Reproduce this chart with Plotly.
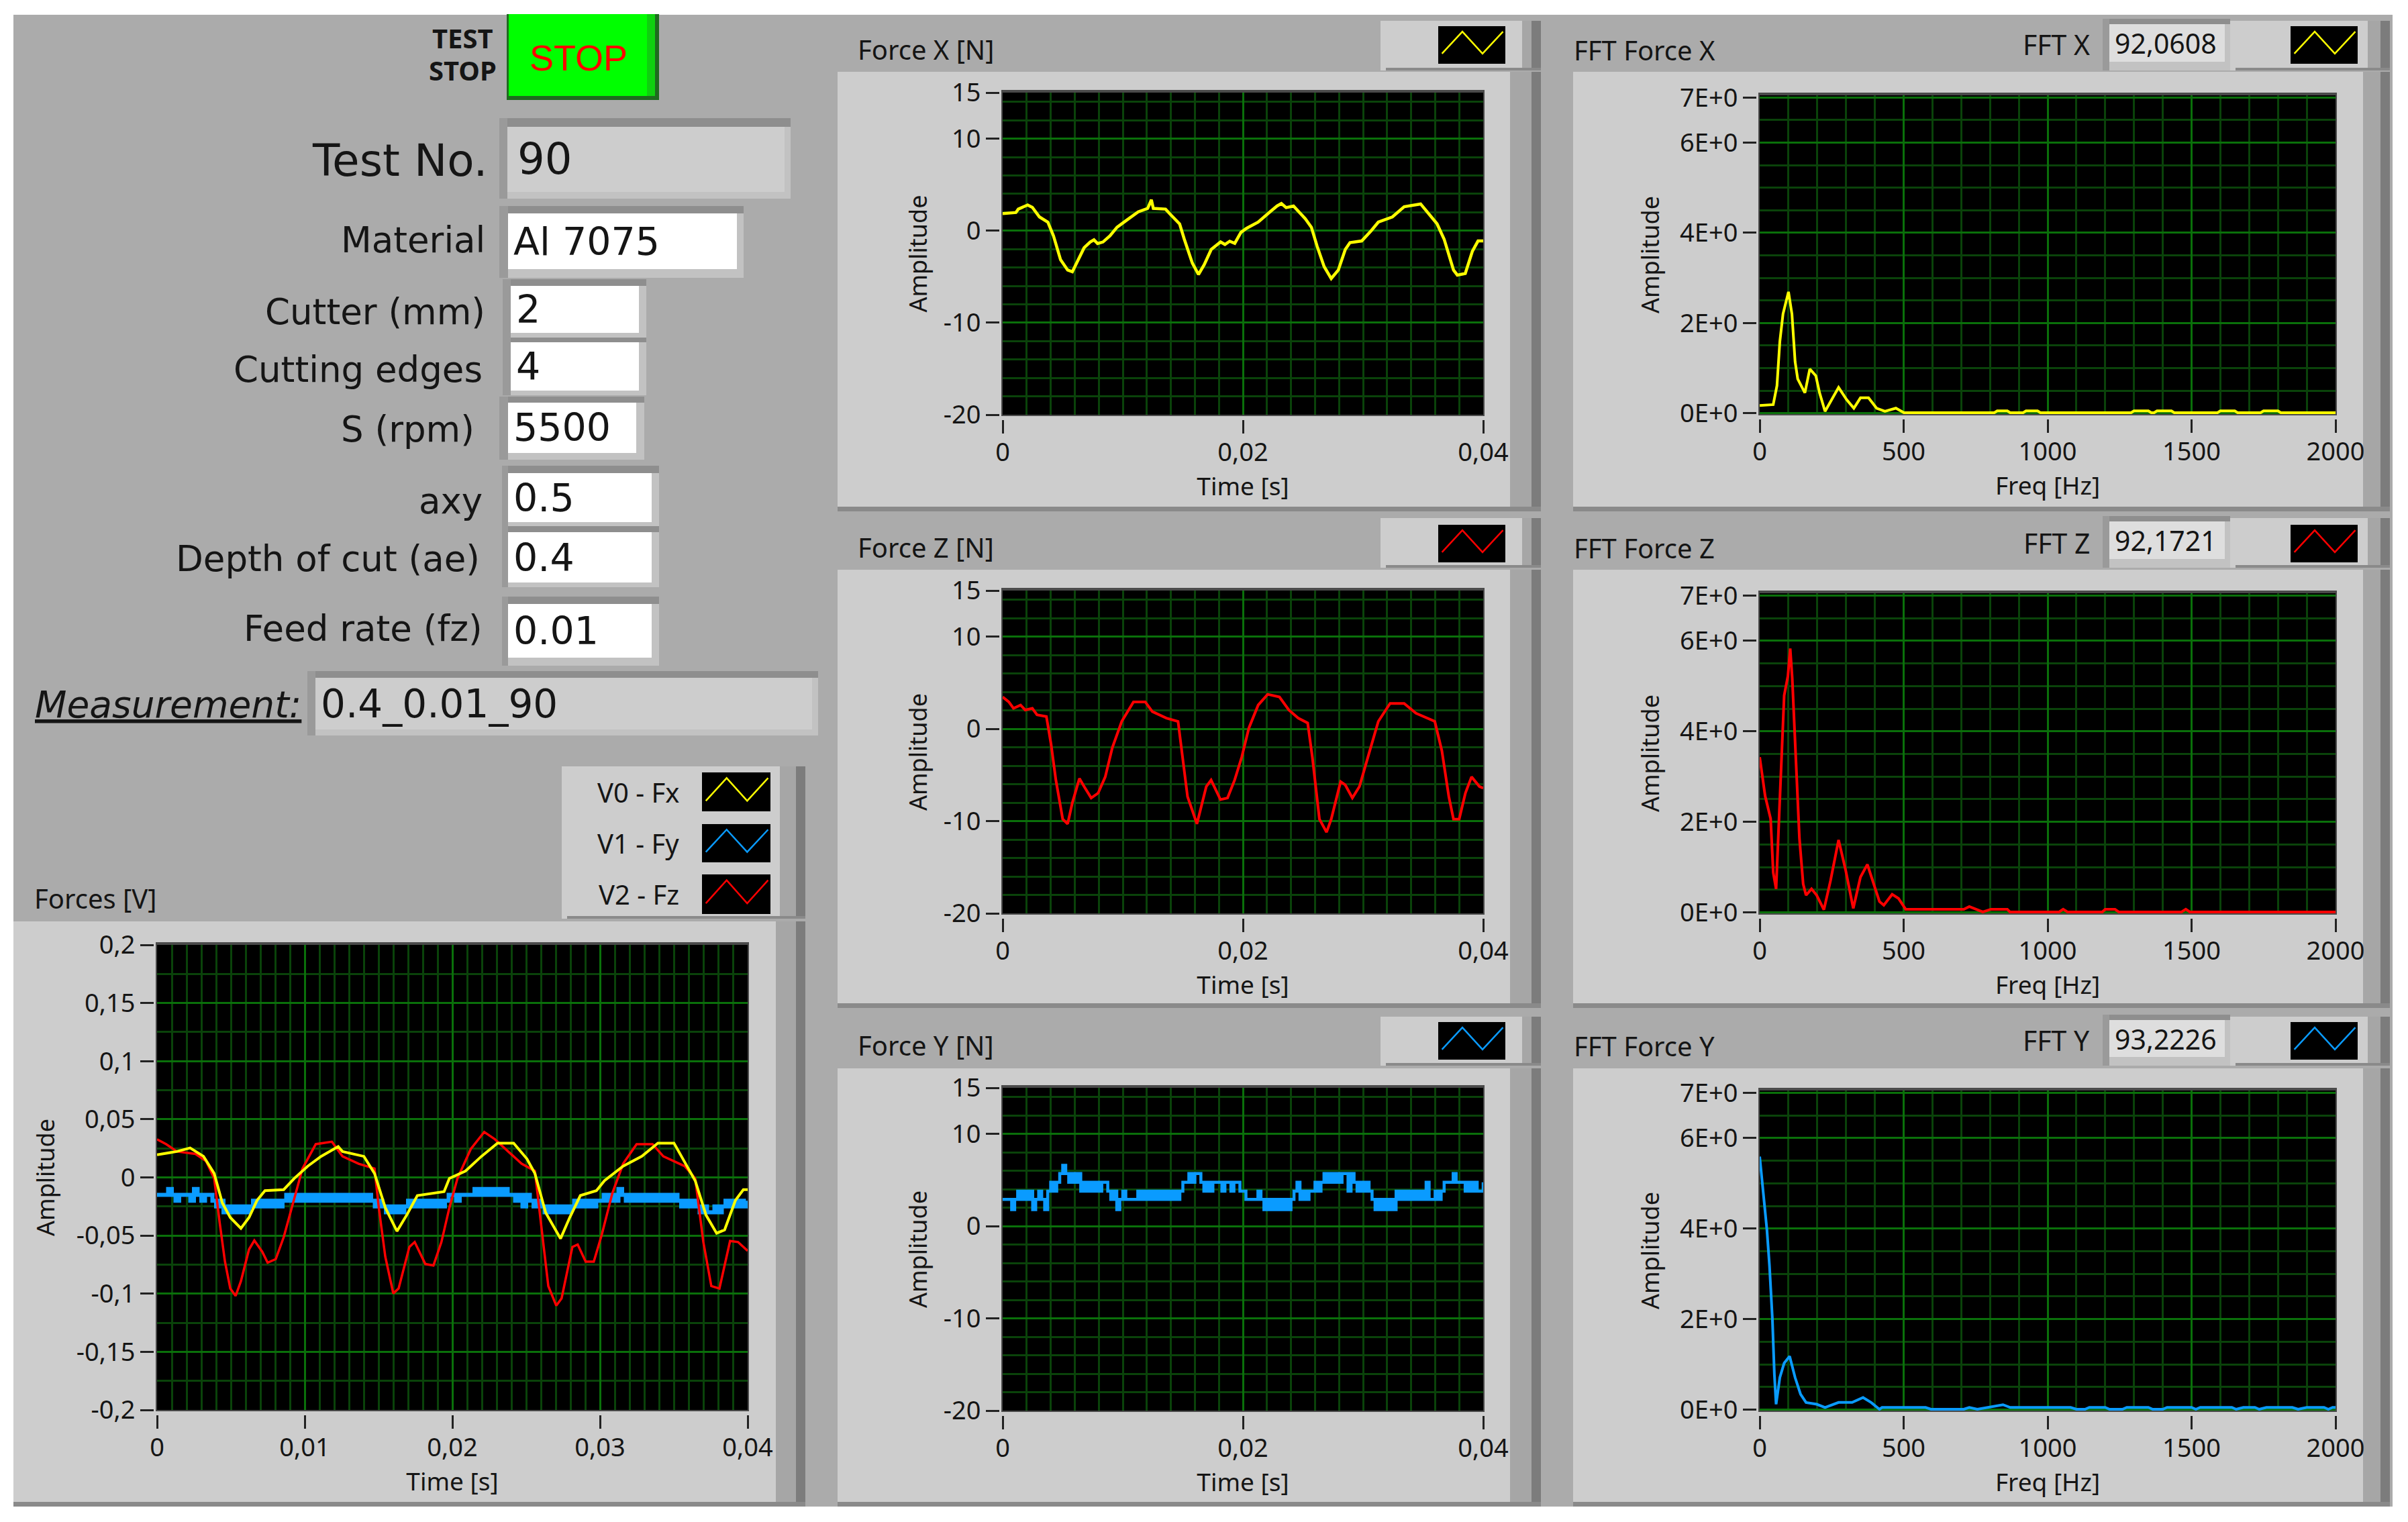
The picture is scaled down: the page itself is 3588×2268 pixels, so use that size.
import plotly.graph_objects as go

W, H = 3588, 2268
FONT = "Noto Sans"
FORM_FONT = "DejaVu Sans"
GRAY, PANEL = "#ababab", "#cdcdcd"
YELLOW, RED, BLUE = "#ffff00", "#ff0000", "#0a9bff"

# Time samples in ms, amplitudes in N
fx_time = [0, 1.1, 1.3, 2.08, 2.47, 3.06, 3.76, 4.23, 4.82, 5.41, 5.8, 6.27, 6.78, 7.29, 7.6, 7.9, 8.35, 8.93, 9.52,
           10.3, 11.28, 12.07, 12.38, 12.54, 13.56, 14.03, 14.73, 15.12, 15.79, 16.3, 16.77, 17.36, 18.14, 18.5, 18.9,
           19.32, 19.83, 20.3, 21.27, 22.25, 22.84, 23.2, 23.6, 24.21, 25.19, 25.7, 26.17, 26.76, 27.35, 27.94, 28.52,
           28.91, 29.89, 30.68, 31.27, 32.44, 33.42, 34.79, 35.58, 36.16, 36.75, 37.53, 37.85, 38.51, 39.1, 39.57, 40]
fx_newton = [1.86, 1.97, 2.34, 2.79, 2.53, 1.49, 0.93, -0.56, -3.16, -4.28, -4.46, -3.16, -1.86, -1.23, -1.0, -1.4,
             -1.23, -0.56, 0.37, 1.12, 2.04, 2.42, 3.35, 2.42, 2.34, 1.67, 0.74, -0.93, -3.53, -4.76, -3.72, -2.04,
             -1.23, -1.5, -1.15, -1.38, -0.19, 0.26, 0.93, 2.04, 2.68, 2.95, 2.5, 2.68, 1.3, 0.37, -1.67, -3.9, -5.2,
             -4.28, -2.04, -1.3, -1.12, 0, 0.93, 1.49, 2.6, 2.9, 1.67, 0.74, -0.93, -4.28, -4.83, -4.65, -2.23, -1.12,
             -1.12]

fz_time = [0, 0.51, 0.9, 1.49, 1.88, 2.47, 2.86, 3.64, 4.03, 4.43, 5.0, 5.41, 5.8, 6.39, 6.78, 7.37, 7.95, 8.54, 9.13,
           9.91, 10.89, 11.87, 12.46, 13.63, 14.6, 15.0, 15.39, 16.17, 16.95, 17.35, 18.13, 18.72, 19.31, 19.9, 20.5,
           21.27, 22.06, 23.04, 23.82, 24.6, 25.39, 25.78, 26.37, 26.96, 27.35, 28.13, 28.52, 29.11, 29.7, 30.48,
           31.27, 32.25, 33.42, 34.4, 35.97, 36.56, 37.14, 37.53, 38.0, 38.52, 39.03, 39.69, 40]
fz_newton = [3.46, 2.93, 2.23, 2.58, 2.05, 2.23, 1.52, 1.34, -1.67, -5.55, -9.79, -10.3, -8.02, -5.37, -6.25, -7.49,
             -6.96, -5.2, -2.03, 0.81, 2.93, 2.93, 1.87, 1.17, 0.81, -3.1, -7.35, -10.3, -6.25, -5.55, -7.67, -7.49,
             -5.55, -3.07, 0.11, 2.58, 3.75, 3.46, 2.05, 1.17, 0.64, -3.07, -9.79, -11.2, -9.79, -5.73, -6.08, -7.49,
             -6.25, -2.73, 0.81, 2.76, 2.76, 1.7, 0.81, -2.37, -7.35, -9.79, -9.79, -6.96, -5.2, -6.25, -6.43]

# Fy toggles between quantisation levels, one value every 0.25 ms
fy_newton = [2.9, 2.9, 2.9, 1.8, 2.9, 3.8, 2.9, 3.8,
             2.9, 3.8, 1.8, 2.9, 3.8, 2.9, 1.8, 3.8,
             4.75, 3.8, 4.75, 5.7, 6.6, 5.7, 4.75, 5.7,
             4.75, 5.7, 3.8, 4.75, 3.8, 4.75, 3.8, 4.75,
             3.8, 4.75, 4.75, 3.8, 2.9, 3.8, 1.8, 2.9,
             3.8, 2.9, 2.9, 2.9, 2.9, 3.8, 2.9, 3.8,
             2.9, 3.8, 2.9, 3.8, 2.9, 3.8, 2.9, 3.8,
             2.9, 3.8, 2.9, 3.8, 4.75, 4.75, 5.7, 4.75,
             5.7, 5.7, 4.75, 3.8, 4.75, 3.8, 4.75, 4.75,
             4.75, 3.8, 4.75, 4.75, 3.8, 4.75, 4.75, 3.8,
             3.8, 2.9, 2.9, 2.9, 2.9, 3.8, 2.9, 1.8,
             2.9, 1.8, 2.9, 1.8, 2.9, 1.8, 2.9, 1.8,
             2.9, 3.8, 4.75, 2.9, 3.8, 2.9, 3.8, 3.8,
             4.75, 3.8, 4.75, 5.7, 4.75, 5.7, 4.75, 5.7,
             4.75, 5.7, 5.7, 3.8, 5.7, 4.75, 3.8, 4.75,
             3.8, 4.75, 3.8, 2.9, 1.8, 2.9, 1.8, 2.9,
             1.8, 2.9, 1.8, 3.8, 2.9, 3.8, 2.9, 3.8,
             2.9, 3.8, 2.9, 3.8, 2.9, 4.75, 2.9, 2.9,
             3.8, 2.9, 3.8, 4.75, 4.75, 4.75, 5.7, 4.75,
             4.75, 4.75, 3.8, 4.75, 3.8, 4.75, 3.8, 3.8,
             4.75]

# Raw channels in V
vx_time = [0, 1.34, 2.24, 3.15, 3.87, 4.42, 4.96, 5.68, 6.23, 6.77, 7.31, 8.58, 9.3, 10.21, 11.11, 12.27, 12.56, 14.01,
           14.73, 15.46, 16.25, 16.91, 17.63, 19.44, 19.8, 20.89, 21.97, 23.06, 24.15, 25.05, 25.59, 26.32, 27.33,
           27.95, 28.67, 29.76, 30.3, 31.57, 32.83, 33.92, 35.01, 35.91, 36.45, 37.18, 37.9, 38.44, 39.17, 39.71, 40]
vx_volt = [0.0194, 0.0223, 0.0253, 0.0181, 0.0034, -0.0219, -0.0345, -0.0438, -0.0345, -0.0198, -0.0114, -0.0105,
           -0.0008, 0.0097, 0.0181, 0.0265, 0.0223, 0.0181, 0.0034, -0.0261, -0.0463, -0.0324, -0.0156, -0.0122,
           -0.0008, 0.0055, 0.0181, 0.0295, 0.0295, 0.016, 0.0034, -0.0303, -0.0526, -0.0345, -0.0156, -0.0114,
           -0.0029, 0.0097, 0.0181, 0.0295, 0.0295, 0.0097, -0.0029, -0.0324, -0.048, -0.0451, -0.0198, -0.0105,
           -0.0105]

vz_time = [0, 0.62, 1.34, 2.6, 3.33, 3.87, 4.24, 4.6, 4.96, 5.32, 5.68, 6.23, 6.59, 7.13, 7.49, 8.04, 8.58, 9.12, 9.85,
           10.75, 11.84, 12.56, 13.65, 14.73, 15.02, 15.46, 16.0, 16.36, 17.09, 17.45, 18.17, 18.72, 19.26, 19.8,
           20.35, 21.25, 22.16, 22.88, 23.78, 24.69, 25.59, 25.95, 26.5, 27.04, 27.4, 28.13, 28.49, 29.03, 29.58,
           30.12, 30.84, 31.57, 32.48, 33.56, 34.29, 35.73, 36.45, 37.0, 37.54, 38.09, 38.81, 39.35, 40]
vz_volt = [0.0328, 0.0286, 0.0223, 0.0202, 0.0139, -0.0008, -0.0387, -0.0724, -0.0956, -0.1019, -0.0893, -0.0619,
           -0.0543, -0.064, -0.0733, -0.0703, -0.0514, -0.0261, 0.0076, 0.0286, 0.0307, 0.0181, 0.0118, 0.0076,
           -0.0261, -0.0682, -0.0998, -0.0956, -0.0598, -0.0556, -0.0745, -0.0758, -0.0556, -0.0261, -0.0008, 0.0244,
           0.0391, 0.0328, 0.0223, 0.0118, 0.0055, -0.0345, -0.0935, -0.1103, -0.104, -0.0598, -0.0577, -0.0724,
           -0.0724, -0.0493, -0.0135, 0.0118, 0.0286, 0.0286, 0.0181, 0.0097, -0.0008, -0.0556, -0.0935, -0.0956,
           -0.0547, -0.0556, -0.0632]

vy_volt = [-0.015, -0.015, -0.015, -0.01, -0.015, -0.02, -0.015, -0.015,
           -0.015, -0.02, -0.01, -0.015, -0.02, -0.015, -0.015, -0.02,
           -0.025, -0.02, -0.03, -0.025, -0.03, -0.025, -0.03, -0.025,
           -0.03, -0.025, -0.02, -0.025, -0.02, -0.025, -0.02, -0.025,
           -0.02, -0.025, -0.02, -0.015, -0.02, -0.015, -0.02, -0.015,
           -0.02, -0.015, -0.02, -0.015, -0.02, -0.015, -0.02, -0.015,
           -0.02, -0.015, -0.02, -0.015, -0.02, -0.015, -0.02, -0.015,
           -0.02, -0.015, -0.02, -0.025, -0.02, -0.025, -0.03, -0.025,
           -0.03, -0.025, -0.03, -0.025, -0.02, -0.025, -0.02, -0.025,
           -0.02, -0.025, -0.02, -0.025, -0.02, -0.025, -0.02, -0.015,
           -0.015, -0.02, -0.015, -0.015, -0.015, -0.015, -0.01, -0.015,
           -0.01, -0.015, -0.01, -0.015, -0.01, -0.015, -0.01, -0.015,
           -0.015, -0.02, -0.015, -0.025, -0.015, -0.02, -0.025, -0.02,
           -0.025, -0.03, -0.025, -0.03, -0.025, -0.03, -0.025, -0.03,
           -0.025, -0.02, -0.025, -0.02, -0.025, -0.02, -0.025, -0.02,
           -0.02, -0.015, -0.02, -0.015, -0.02, -0.01, -0.015, -0.02,
           -0.015, -0.02, -0.015, -0.02, -0.015, -0.02, -0.015, -0.02,
           -0.015, -0.02, -0.015, -0.02, -0.015, -0.02, -0.025, -0.02,
           -0.025, -0.02, -0.025, -0.03, -0.025, -0.03, -0.03, -0.025,
           -0.03, -0.025, -0.02, -0.025, -0.02, -0.025, -0.02, -0.025,
           -0.02]

# Spectra: frequency in Hz, amplitude
fft_x_freq = [0, 47, 60, 70, 81, 100, 112, 123, 132, 157, 174, 195, 208, 227, 274, 302, 327, 350, 378, 406, 435, 473,
              501, 815, 825, 860, 870, 915, 925, 965, 975, 1290, 1300, 1350, 1360, 1370, 1380, 1430, 1440, 1590, 1600,
              1650, 1660, 1740, 1750, 1800, 1810, 2000]
fft_x_amp = [0.17, 0.19, 0.61, 1.59, 2.2, 2.69, 2.2, 1.14, 0.76, 0.45, 0.98, 0.83, 0.45, 0.04, 0.57, 0.3, 0.11, 0.34,
             0.34, 0.11, 0.04, 0.11, 0.01, 0.01, 0.05, 0.05, 0.01, 0.01, 0.05, 0.05, 0.01, 0.01, 0.05, 0.05, 0.01, 0.01,
             0.05, 0.05, 0.01, 0.01, 0.05, 0.05, 0.01, 0.01, 0.05, 0.05, 0.01, 0.01]

fft_z_freq = [0, 19, 38, 47, 57, 62, 70, 78, 85, 98, 106, 113, 123, 132, 138, 151, 161, 180, 198, 223, 246, 274, 299,
              325, 350, 374, 397, 416, 431, 460, 482, 507, 709, 728, 775, 803, 860, 869, 1040, 1054, 1069, 1190, 1200,
              1234, 1247, 1465, 1480, 1494, 2000]
fft_z_amp = [3.43, 2.57, 2.07, 0.88, 0.52, 1.28, 2.79, 3.86, 4.79, 5.22, 5.83, 5.18, 3.86, 2.43, 1.64, 0.63, 0.38, 0.52,
             0.38, 0.06, 0.7, 1.6, 0.92, 0.09, 0.78, 1.06, 0.63, 0.24, 0.16, 0.4, 0.31, 0.07, 0.07, 0.13, 0.01, 0.07,
             0.07, 0.01, 0.01, 0.07, 0.01, 0.01, 0.07, 0.07, 0.01, 0.01, 0.07, 0.01, 0.01]

fft_y_freq = [0, 13, 25, 34, 44, 51, 57, 70, 85, 104, 123, 142, 161, 198, 227, 274, 321, 359, 387, 416, 425, 576, 595,
              709, 728, 756, 784, 845, 870, 955, 1040, 1080, 1100, 1130, 1145, 1200, 1215, 1260, 1275, 1350, 1365, 1400,
              1415, 1500, 1515, 1530, 1640, 1655, 1680, 1720, 1735, 1760, 1850, 1870, 1900, 1960, 1975, 1990, 2000]
fft_y_amp = [5.59, 4.71, 3.98, 3.18, 2.02, 0.78, 0.12, 0.71, 1.03, 1.18, 0.71, 0.34, 0.16, 0.12, 0.05, 0.16, 0.16, 0.27,
             0.16, 0.01, 0.05, 0.05, 0.01, 0.01, 0.05, 0.01, 0.04, 0.11, 0.05, 0.05, 0.05, 0.05, 0.01, 0.01, 0.05, 0.05,
             0.01, 0.01, 0.05, 0.05, 0.01, 0.01, 0.05, 0.05, 0.01, 0.05, 0.05, 0.01, 0.05, 0.05, 0.01, 0.05, 0.05, 0.01,
             0.05, 0.05, 0.01, 0.05, 0.05]

time_ticks, time_labels = [0, 0.02, 0.04], ["0", "0,02", "0,04"]
volt_time_ticks, volt_time_labels = [0, 0.01, 0.02, 0.03, 0.04], ["0", "0,01", "0,02", "0,03", "0,04"]
force_ticks, force_labels = [-20, -10, 0, 10, 15], ["-20", "-10", "0", "10", "15"]
volt_ticks = [-0.2, -0.15, -0.1, -0.05, 0, 0.05, 0.1, 0.15, 0.2]
volt_labels = ["-0,2", "-0,15", "-0,1", "-0,05", "0", "0,05", "0,1", "0,15", "0,2"]
freq_ticks, freq_labels = [0, 500, 1000, 1500, 2000], ["0", "500", "1000", "1500", "2000"]
amp_ticks, amp_labels = [0, 2, 4, 6, 7], ["0E+0", "2E+0", "4E+0", "6E+0", "7E+0"]

form_labels = ["Material", "Cutter (mm)", "Cutting edges", "S (rpm)", "axy", "Depth of cut (ae)", "Feed rate (fz)"]
form_values = ["Al 7075", "2", "4", "5500", "0.5", "0.4", "0.01"]


def seconds(values):
    return [v / 1000 for v in values]


every_quarter_ms = [i * 0.25 for i in range(len(fy_newton))]

fig = go.Figure()
shapes, notes = [], []


def box(x0, y0, x1, y1, color):
    shapes.append(dict(type="rect", xref="paper", yref="paper", x0=x0 / W, x1=x1 / W, y0=1 - y0 / H, y1=1 - y1 / H,
                       fillcolor=color, line_width=0, layer="below"))


def label(x, y, text, size=37, anchor="right", color="#151515", family=FONT):
    notes.append(dict(x=x / W, y=1 - y / H, xref="paper", yref="paper", text=text, showarrow=False, xanchor=anchor,
                      yanchor="middle", font=dict(size=size, color=color, family=family)))


def field(outer, inner, color, text, size, text_x=None, family=FORM_FONT):
    box(*outer, "#c2c2c2")
    box(outer[0], outer[1], outer[2], inner[1], "#8e8e8e")
    box(outer[0], outer[1], inner[0], outer[3], "#9a9a9a")
    box(*inner, color)
    label(text_x or inner[0] + 6, (inner[1] + inner[3]) / 2, text, size, "left", family=family)


def panel(x0, y0, x1, y1, edge):
    box(x0, y0, edge, y1, PANEL)
    box(edge, y0, x1 - 14, y1, "#a6a6a6")
    box(x1 - 14, y0, x1, y1, "#7c7c7c")
    box(x0, y1 - 7, x1, y1, "#8a8a8a")


def legend_box(x0, y0, x1, y1, edge):
    box(x0, y0, x1, y1, PANEL)
    box(edge, y0, x1 - 14, y1, "#a6a6a6")
    box(x1 - 14, y0, x1, y1, "#7c7c7c")
    box(x0 + 8, y1 - 4, x1, y1, "#8a8a8a")


def swatch(x0, y0, x1, y1, color):
    box(x0, y0, x1, y1, "#000000")
    dx, dy = (x1 - x0), (y1 - y0)
    xs = [x0 + 0.056 * dx, x0 + 0.36 * dx, x0 + 0.66 * dx, x0 + 0.965 * dx]
    ys = [y0 + 0.73 * dy, y0 + 0.145 * dy, y0 + 0.73 * dy, y0 + 0.145 * dy]
    path = "M" + " L".join(f"{x / W},{1 - y / H}" for x, y in zip(xs, ys))
    shapes.append(dict(type="path", xref="paper", yref="paper", path=path, line=dict(color=color, width=2.5),
                       layer="below"))


def add_plot(n, rect, traces, xt, xl, xdtick, xrange, yt, yl, ydtick, yrange, xtitle, ystandoff):
    x0, y0, x1, y1 = rect
    # the plot background sits under paper shapes, so the black comes from a shape too
    box(x0 - 2, y0 - 4, x1 + 2, y1 + 2, "#4a4a4a")
    box(x0, y0, x1, y1, "#000000")
    for x, y, color, width, shape in traces:
        fig.add_trace(go.Scatter(x=x, y=y, mode="lines", xaxis=f"x{n}", yaxis=f"y{n}", showlegend=False,
                                 line=dict(color=color, width=width, shape=shape)))
    grid = dict(showgrid=True, gridcolor="#0a700a", gridwidth=2.5, zeroline=False, showline=False, ticks="outside",
                ticklen=20, tickwidth=3, tickcolor="#222222", tickmode="array", automargin=False,
                tickfont=dict(size=38, color="#151515", family=FONT))
    minor = dict(showgrid=True, tick0=0, gridcolor="#0a430a", gridwidth=2.5, ticks="")
    fig.update_layout({
        f"xaxis{n}": dict(domain=[x0 / W, x1 / W], anchor="free", position=1 - (y1 + 7) / H, range=xrange,
                          tickvals=xt, ticktext=xl, ticklabelstandoff=-5,
                          title=dict(text=xtitle, standoff=12, font=dict(size=37, color="#151515", family=FONT)),
                          minor=dict(dtick=xdtick, **minor), **grid),
        f"yaxis{n}": dict(domain=[1 - y1 / H, 1 - y0 / H], anchor="free", position=(x0 - 5) / W, range=yrange,
                          tickvals=yt, ticktext=yl,
                          title=dict(text="Amplitude", standoff=ystandoff,
                                     font=dict(size=36, color="#151515", family=FONT)),
                          minor=dict(dtick=ydtick, **minor), **grid),
    })


# Window background
box(20, 22, 3565, 2245, GRAY)

# Controls on the left
box(755, 21, 982, 149, "#1f6b1f")
box(758, 21, 976, 143, "#00ff00")
box(964, 21, 976, 143, "#0fd00f")
label(862, 86, "STOP", 54, "center", "#ff0000", "Liberation Sans")
label(737, 56, "<b>TEST</b>", 40)
label(742, 104, "<b>STOP</b>", 40)

label(729, 239, "Test No.", 66, family=FORM_FONT)
field((744, 176, 1178, 296), (756, 189, 1169, 286), "#cdcdcd", "90", 64, 769)

label_y = [357, 464, 550, 639, 746, 832, 937]
label_x = [725, 725, 721, 709, 721, 717, 721]
outers = [(744, 307, 1108, 414), (749, 416, 963, 505), (749, 503, 963, 589), (744, 591, 960, 685),
          (748, 694, 982, 785), (748, 784, 982, 875), (748, 889, 982, 992)]
inners = [(757, 318, 1098, 401), (761, 426, 952, 496), (761, 510, 952, 582), (757, 600, 948, 675),
          (757, 705, 971, 778), (757, 793, 971, 868), (757, 900, 971, 980)]
for name, value, lx, ly, outer, inner in zip(form_labels, form_values, label_x, label_y, outers, inners):
    label(lx, ly, name, 53, family=FORM_FONT)
    field(outer, inner, "#ffffff", value, 57)

label(451, 1050, "<i><u>Measurement:</u></i>", 55, family=FORM_FONT)
field((458, 1000, 1219, 1096), (470, 1010, 1210, 1087), "#cdcdcd", "0.4_0.01_90", 58)

# Forces [V] panel and its legend
panel(20, 1373, 1200, 2245, 1156)
legend_box(837, 1142, 1200, 1369, 1162)
label(49, 1338, "Forces [V]", 40, "left")
for text, y0, y1, color in [("V0 - Fx", 1151, 1209, YELLOW), ("V1 - Fy", 1228, 1285, BLUE), ("V2 - Fz", 1303, 1362, RED)]:
    label(1014, (y0 + y1) / 2, text, 40)
    swatch(1046, y0, 1148, y1, color)
add_plot(1, (234, 1408, 1114, 2101),
         [(seconds(every_quarter_ms), vy_volt, BLUE, 6, "hv"),
          (seconds(vz_time), vz_volt, RED, 3.5, "linear"),
          (seconds(vx_time), vx_volt, YELLOW, 4, "linear")],
         volt_time_ticks, volt_time_labels, 0.001, [0, 0.04], volt_ticks, volt_labels, 0.025, [-0.2, 0.2], "Time [s]", 20)

# Force and spectrum rows
rows = [
    ("X", 107, 762, 31, 105, 39, 95, 75, 74, (1494, 138, 2210, 618), (2622, 142, 3480, 617),
     (seconds(fx_time), fx_newton, YELLOW, 4.5, "linear"), (fft_x_freq, fft_x_amp, YELLOW, 4, "linear"), "92,0608"),
    ("Z", 849, 1502, 772, 846, 782, 838, 816, 815, (1494, 880, 2210, 1361), (2622, 884, 3480, 1361),
     (seconds(fz_time), fz_newton, RED, 4, "linear"), (fft_z_freq, fft_z_amp, RED, 4, "linear"), "92,1721"),
    ("Y", 1592, 2245, 1515, 1588, 1523, 1579, 1558, 1557, (1494, 1621, 2210, 2102), (2622, 1625, 3480, 2102),
     (seconds(every_quarter_ms), fy_newton, BLUE, 4.5, "hv"), (fft_y_freq, fft_y_amp, BLUE, 4, "linear"), "93,2226"),
]
n = 2
for axis, y0, y1, ly0, ly1, sy0, sy1, fft_title_y, title_y, force_rect, fft_rect, force_trace, fft_trace, peak in rows:
    color = force_trace[2]

    panel(1248, y0, 2296, y1, 2250)
    legend_box(2057, ly0, 2296, ly1, 2268)
    swatch(2143, sy0, 2243, sy1, color)
    label(1276, title_y, f"Force {axis} [N]", 40, "left")
    add_plot(n, force_rect, [force_trace], time_ticks, time_labels, 0.002, [0, 0.04],
             force_ticks, force_labels, 2, [-20, 15], "Time [s]", 12)
    n += 1

    panel(2344, y0, 3561, y1, 3521)
    legend_box(3323, ly0, 3561, ly1, 3528)
    swatch(3413, sy0, 3513, sy1, color)
    label(2343, fft_title_y, f"FFT Force {axis}", 40, "left")
    label(3116, (sy0 + sy1) / 2 - 1, f"FFT {axis}", 41)
    field((3133, ly0 - 3, 3323, ly1), (3143, ly0 + 5, 3315, ly1 - 13), "#dedede", peak, 41, 3149, FONT)
    add_plot(n, fft_rect, [fft_trace], freq_ticks, freq_labels, 100, [0, 2000],
             amp_ticks, amp_labels, 0.5, [-0.02, 7.05], "Freq [Hz]", 18)
    n += 1

fig.update_layout(width=W, height=H, margin=dict(l=0, r=0, t=0, b=0), paper_bgcolor="#ffffff",
                  plot_bgcolor="#000000", showlegend=False, shapes=shapes, annotations=notes,
                  font=dict(family=FONT))
fig.write_html("out.html", config={"displayModeBar": False}, post_script="document.body.style.margin='0';")
